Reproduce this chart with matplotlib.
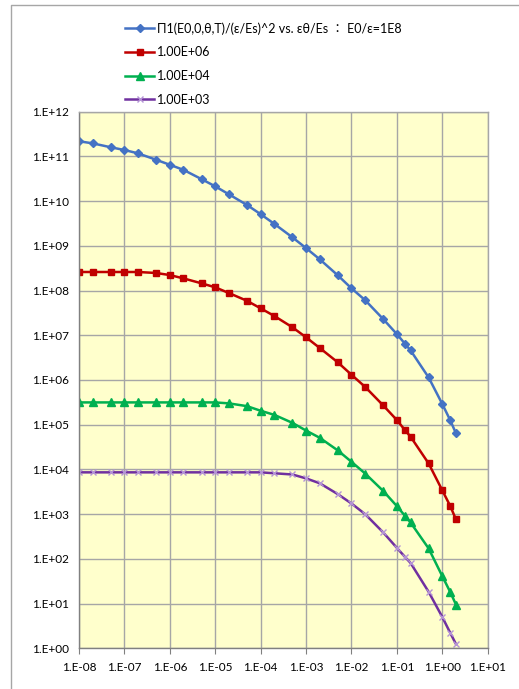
import numpy as np
import matplotlib
matplotlib.use("Agg")
import matplotlib.pyplot as plt
from matplotlib.lines import Line2D

# eps*theta/Es
x = [1e-8, 2e-8, 5e-8, 1e-7, 2e-7, 5e-7, 1e-6, 2e-6, 5e-6, 1e-5, 2e-5, 5e-5,
     1e-4, 2e-4, 5e-4, 1e-3, 2e-3, 5e-3, 1e-2, 2e-2, 5e-2, 1e-1, 1.5e-1, 2e-1,
     5e-1, 1.0, 1.5, 2.0]

# E0/eps = 1E8
y_1e8 = [2.18e11, 1.96e11, 1.60e11, 1.39e11, 1.17e11, 8.4e10, 6.5e10, 5.0e10,
         3.1e10, 2.14e10, 1.42e10, 8.2e9, 5.1e9, 3.1e9, 1.55e9, 8.9e8, 5.0e8,
         2.19e8, 1.12e8, 6.1e7, 2.3e7, 1.06e7, 6.5e6, 4.6e6, 1.14e6, 2.9e5,
         1.25e5, 6.4e4]
# E0/eps = 1E6
y_1e6 = [2.6e8, 2.6e8, 2.6e8, 2.6e8, 2.6e8, 2.47e8, 2.22e8, 1.87e8, 1.45e8,
         1.18e8, 8.8e7, 5.9e7, 4.0e7, 2.7e7, 1.51e7, 9.0e6, 5.2e6, 2.48e6,
         1.31e6, 7.0e5, 2.7e5, 1.27e5, 7.6e4, 5.4e4, 1.36e4, 3.4e3, 1.51e3, 7.6e2]
# E0/eps = 1E4
y_1e4 = [3.15e5, 3.15e5, 3.15e5, 3.15e5, 3.15e5, 3.15e5, 3.15e5, 3.15e5,
         3.15e5, 3.15e5, 3.0e5, 2.6e5, 2.05e5, 1.66e5, 1.1e5, 7.4e4, 5.1e4,
         2.66e4, 1.48e4, 8.1e3, 3.3e3, 1.51e3, 9.2e2, 6.5e2, 1.71e2, 41, 18, 9.5]
# E0/eps = 1E3
y_1e3 = [8.6e3, 8.6e3, 8.6e3, 8.6e3, 8.6e3, 8.6e3, 8.6e3, 8.6e3, 8.6e3, 8.6e3,
         8.6e3, 8.6e3, 8.6e3, 8.2e3, 7.7e3, 6.3e3, 4.9e3, 2.8e3, 1.73e3, 1.0e3,
         3.9e2, 1.76e2, 1.11e2, 81, 18.3, 5.0, 2.2, 1.24]

labels = ["Π1(E0,0,θ,T)/(ε/Es)^2 vs. εθ/Es ： E0/ε=1E8",
          "1.00E+06", "1.00E+04", "1.00E+03"]

xticks = [10.0**k for k in range(-8, 2)]
xlabels = ["1.E-08", "1.E-07", "1.E-06", "1.E-05", "1.E-04", "1.E-03",
           "1.E-02", "1.E-01", "1.E+00", "1.E+01"]
yticks = [10.0**k for k in range(0, 13)]
ylabels = ["1.E+%02d" % k for k in range(0, 13)]

fam = ["Lato", "DejaVu Sans", "Noto Sans CJK JP"]
plt.rcParams['font.family'] = fam

fig = plt.figure(figsize=(5.19, 6.89), dpi=100)

# chart area border (only top and left show in the picture)
fig.add_artist(Line2D([10.5 / 519, 10.5 / 519, 1.0], [0.0, 1 - 4.5 / 689, 1 - 4.5 / 689],
                      transform=fig.transFigure, color="#A6A6A6", lw=1.0))

ax = fig.add_axes([0.1522, 0.0591, 0.7875, 0.7788])
ax.set_facecolor("#FFFFCC")

ax.plot(x, y_1e8, color="#4472C4", lw=1.8, marker="D", ms=4.5, label=labels[0])
ax.plot(x, y_1e6, color="#C00000", lw=1.8, marker="s", ms=5, label=labels[1])
ax.plot(x, y_1e4, color="#00B050", lw=1.8, marker="^", ms=5.5, label=labels[2])
ax.plot(x, y_1e3, color="#7030A0", lw=1.8, marker="x", ms=5,
        mec="#B594D6", mew=1.0, label=labels[3])

ax.set_xscale("log")
ax.set_yscale("log")
ax.set_xlim(1e-8, 1e1)
ax.set_ylim(1e0, 1e12)
ax.set_xticks(xticks)
ax.set_xticklabels(xlabels)
ax.set_yticks(yticks)
ax.set_yticklabels(ylabels)
ax.minorticks_off()
ax.tick_params(axis="x", direction="out", length=4, color="#808080",
               labelsize=8.5, pad=6)
ax.tick_params(axis="y", length=0, labelsize=8.5, pad=7)
ax.grid(True, color="#A6A6A6", lw=1.0)
ax.set_axisbelow(True)
for s in ax.spines.values():
    s.set_color("#A6A6A6")
    s.set_linewidth(1.0)
ax.spines["bottom"].set_color("#808080")
ax.spines["left"].set_color("#808080")

fig.legend(loc="upper left", bbox_to_anchor=(0.232, 0.9753), frameon=False,
           fontsize=9, handlelength=2.3, handletextpad=0.25,
           labelspacing=0.94, borderaxespad=0)

fig.savefig("out.png", dpi=100)
